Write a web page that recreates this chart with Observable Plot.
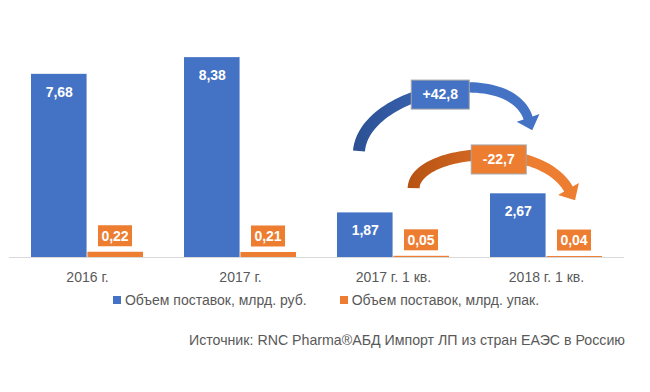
<!DOCTYPE html>
<html>
<head>
<meta charset="utf-8">
<script src="https://cdn.jsdelivr.net/npm/d3@7"></script>
<script src="https://cdn.jsdelivr.net/npm/@observablehq/plot@0.6"></script>
<style>
  html, body { margin: 0; padding: 0; background: #fff; }
  body { width: 650px; height: 392px; overflow: hidden; font-family: "Liberation Sans", Arial, sans-serif; color: #595959; }
  #legend { height: 20px; display: flex; justify-content: center; align-items: center; gap: 33px; font-size: 14px; padding-left: 2px; }
  #legend .sw { display: inline-block; width: 8px; height: 8px; margin-right: 4px; }
  #legend span.item { display: inline-flex; align-items: center; }
  #source { margin-top: 20px; line-height: 20px; font-size: 14.2px; text-align: right; padding-right: 25px; }
</style>
</head>
<body>
<div id="chart"></div>
<div id="legend"></div>
<div id="source"></div>
<script>
// ---- data ----
const categories = ["2016 г.", "2017 г.", "2017 г. 1 кв.", "2018 г. 1 кв."];
const rubValues = [7.68, 8.38, 1.87, 2.67];     // Объем поставок, млрд. руб.
const packValues = [0.22, 0.21, 0.05, 0.04];    // Объем поставок, млрд. упак.
const seriesNames = ["Объем поставок, млрд. руб.", "Объем поставок, млрд. упак."];
const changeLabels = ["+42,8", "-22,7"];        // изменение 1 кв. 2018 к 1 кв. 2017, %
const changeFrom = ["2017 г. 1 кв.", "2017 г. 1 кв."];
const changeTo = ["2018 г. 1 кв.", "2018 г. 1 кв."];
const sourceText = "Источник: RNC Pharma®АБД Импорт ЛП из стран ЕАЭС в Россию";

// ---- styles / layout ----
const BLUE = "#4472C4", ORANGE = "#ED7D31";
const W = 650, H = 290, mL = 9, mR = 26, mT = 18.5, mB = 33;
const padInner = 0.266, padOuter = 0.133;
const step = (W - mL - mR) / (categories.length - padInner + 2 * padOuter);
const bw = step * (1 - padInner);
const fmt = v => v.toFixed(2).replace(".", ",");

// annotation placement: [band fraction, y-value] anchors relative to categories
const arrowStyle = [
  {tail: [0.196, 4.44], head: [0.340, 5.83], box: [0.922, 6.81], boxW: 58, lift: [5, -61], dir: [0.32, 0.95], k: 60,
   colors: ["#2b5093", "#3b66b5", BLUE], boxFill: BLUE, w0: 12, w1: 9.5},
  {tail: [0.684, 2.89], head: [0.701, 2.85], box: [0.078, 4.09], boxW: 55, lift: [1, -38], dir: [0.5, 0.86], k: 60,
   colors: ["#b65212", "#d66a24", ORANGE], boxFill: ORANGE, w0: 12, w1: 10}
];
const boxCat = ["2017 г. 1 кв.", "2018 г. 1 кв."];

const rows = categories.map((c, i) => ({category: c, rub: rubValues[i], pack: packValues[i]}));

function annotations(index, scales) {
  const x = scales.x, y = scales.y;
  const b = typeof x.bandwidth === "function" ? x.bandwidth() : bw;
  const g = d3.create("svg:g");
  const defs = g.append("defs");
  // orange value labels in boxes
  rows.forEach(d => {
    const cx = x(d.category) + b * 0.75;
    const top = y(d.pack);
    const bh = 21, bwid = 34;
    const by = top - 5.5 - bh;
    g.append("rect").attr("x", cx - bwid / 2).attr("y", by).attr("width", bwid).attr("height", bh).attr("fill", ORANGE);
    g.append("text").attr("x", cx).attr("y", by + bh / 2).attr("dy", "0.35em").attr("text-anchor", "middle")
      .attr("fill", "white").attr("font-weight", "bold").attr("font-size", 14).text(fmt(d.pack));
  });
  // curved change arrows
  arrowStyle.forEach((a, i) => {
    const P0 = [x(changeFrom[i]) + a.tail[0] * b, y(a.tail[1])];
    const P3 = [x(changeTo[i]) + a.head[0] * b, y(a.head[1])];
    const dl = Math.hypot(a.dir[0], a.dir[1]);
    const d = [a.dir[0] / dl, a.dir[1] / dl];
    const P1 = [P0[0] + a.lift[0], P0[1] + a.lift[1]];
    const P2 = [P3[0] - d[0] * a.k, P3[1] - d[1] * a.k];
    const P = [P0, P1, P2, P3];
    const pt = t => { const m = 1 - t; const c = [m*m*m, 3*m*m*t, 3*m*t*t, t*t*t]; return [0, 1].map(j => c[0]*P[0][j] + c[1]*P[1][j] + c[2]*P[2][j] + c[3]*P[3][j]); };
    const tan = t => { const m = 1 - t; const c = [-3*m*m, 3*m*m - 6*m*t, 6*m*t - 3*t*t, 3*t*t]; return [0, 1].map(j => c[0]*P[0][j] + c[1]*P[1][j] + c[2]*P[2][j] + c[3]*P[3][j]); };
    const N = 60, L = [], R = [];
    for (let k = 0; k <= N; k++) {
      const t = k / N, p = pt(t), tv = tan(t), len = Math.hypot(tv[0], tv[1]);
      const n = [-tv[1] / len, tv[0] / len];
      const w = (a.w0 + (a.w1 - a.w0) * t) / 2;
      L.push([p[0] + n[0] * w, p[1] + n[1] * w]);
      R.push([p[0] - n[0] * w, p[1] - n[1] * w]);
    }
    const nEnd = [-d[1], d[0]], hw = 12, hl = 13;
    const poly = [...L,
      [P3[0] + nEnd[0] * hw, P3[1] + nEnd[1] * hw],
      [P3[0] + d[0] * hl, P3[1] + d[1] * hl],
      [P3[0] - nEnd[0] * hw, P3[1] - nEnd[1] * hw],
      ...R.reverse()];
    const gid = "arrowgrad" + i;
    const lg = defs.append("linearGradient").attr("id", gid).attr("gradientUnits", "userSpaceOnUse")
      .attr("x1", P0[0] - 6).attr("y1", 0).attr("x2", P3[0] + 12).attr("y2", 0);
    lg.append("stop").attr("offset", 0).attr("stop-color", a.colors[0]);
    lg.append("stop").attr("offset", 0.45).attr("stop-color", a.colors[1]);
    lg.append("stop").attr("offset", 0.45).attr("stop-color", a.colors[2]);
    lg.append("stop").attr("offset", 1).attr("stop-color", a.colors[2]);
    g.append("path").attr("d", "M" + poly.map(p => p[0].toFixed(2) + "," + p[1].toFixed(2)).join("L") + "Z")
      .attr("fill", `url(#${gid})`);
    // label box
    const bx = x(boxCat[i]) + a.box[0] * b, byc = y(a.box[1]);
    const bh = 29;
    g.append("rect").attr("x", bx - a.boxW / 2).attr("y", byc - bh / 2).attr("width", a.boxW).attr("height", bh)
      .attr("fill", a.boxFill).attr("stroke", "#a6a6a6").attr("stroke-width", 1);
    g.append("text").attr("x", bx).attr("y", byc).attr("dy", "0.35em").attr("text-anchor", "middle")
      .attr("fill", "white").attr("font-weight", "bold").attr("font-size", 14).text(changeLabels[i]);
  });
  return g.node();
}

const chart = Plot.plot({
  width: W, height: H,
  marginTop: mT, marginBottom: mB, marginLeft: mL, marginRight: mR,
  style: {fontFamily: "'Liberation Sans', Arial, sans-serif", fontSize: "14px", color: "#595959", background: "white", overflow: "visible"},
  x: {domain: categories, paddingInner: padInner, paddingOuter: padOuter, tickSize: 0, tickPadding: 15, label: null},
  y: {domain: [0, 10], axis: null},
  marks: [
    Plot.barY(rows, {x: "category", y: "rub", fill: BLUE, insetRight: bw / 2}),
    Plot.barY(rows, {x: "category", y: "pack", fill: ORANGE, insetLeft: bw / 2}),
    Plot.ruleY([0], {stroke: "#d9d9d9", strokeWidth: 1}),
    Plot.text(rows, {x: "category", y: "rub", text: d => fmt(d.rub), dx: -bw / 4, dy: 18, fill: "white", fontWeight: "bold", fontSize: 14}),
    annotations
  ]
});
document.getElementById("chart").appendChild(chart);

const legend = document.getElementById("legend");
[BLUE, ORANGE].forEach((c, i) => {
  const item = document.createElement("span");
  item.className = "item";
  const sw = document.createElement("span");
  sw.className = "sw"; sw.style.background = c;
  item.appendChild(sw);
  item.appendChild(document.createTextNode(seriesNames[i]));
  legend.appendChild(item);
});
document.getElementById("source").textContent = sourceText;
</script>
</body>
</html>
